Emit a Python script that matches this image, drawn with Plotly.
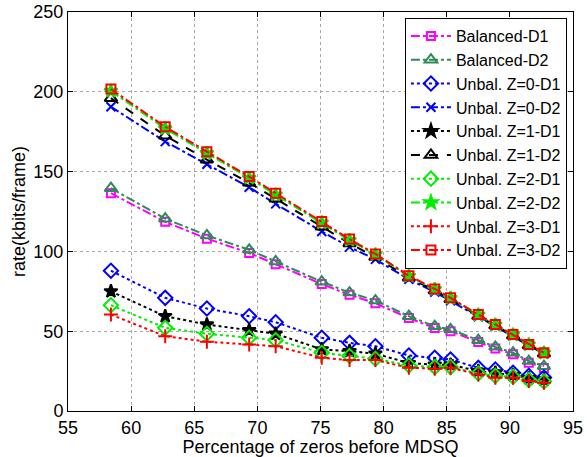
import plotly.graph_objects as go

# Percentage of zeros before MDSQ (x positions shared by all curves)
zeros_pct = [58.4, 62.7, 66.0, 69.35, 71.45, 75.1, 77.3, 79.35, 82.0, 84.05, 85.3, 87.5, 88.85, 90.25, 91.5, 92.7]

# Rate in kbits/frame for each scheme / description
balanced_d1 = [136.5, 118.5, 108.0, 99.0, 92.0, 79.5, 72.8, 67.5, 58.2, 52.0, 50.0, 43.3, 39.2, 35.5, 30.3, 27.0]
balanced_d2 = [139.6, 120.5, 110.0, 101.0, 93.7, 81.0, 74.2, 69.2, 59.4, 53.1, 51.1, 44.4, 40.2, 36.5, 31.3, 28.1]
z0_d1 = [87.9, 70.9, 64.2, 59.4, 55.6, 45.9, 42.7, 40.6, 34.8, 33.4, 32.3, 27.0, 26.0, 24.0, 22.0, 21.0]
z0_d2 = [190.6, 168.8, 154.6, 140.2, 129.8, 112.5, 102.7, 95.0, 82.5, 74.5, 69.0, 59.0, 53.0, 47.0, 41.0, 36.0]
z1_d1 = [75.0, 59.4, 54.2, 50.6, 48.4, 38.6, 37.5, 35.9, 30.0, 29.0, 29.0, 25.0, 24.0, 22.5, 20.5, 19.5]
z1_d2 = [196.0, 172.5, 157.5, 143.0, 133.0, 115.5, 105.0, 96.5, 83.5, 75.5, 70.0, 59.5, 53.5, 47.3, 41.2, 36.0]
z2_d1 = [66.3, 52.1, 48.4, 45.9, 44.4, 36.5, 34.4, 32.7, 28.5, 27.5, 27.5, 23.5, 22.0, 21.5, 19.5, 18.5]
z2_d2 = [200.5, 177.0, 161.5, 146.0, 135.5, 118.0, 107.0, 98.0, 84.5, 76.3, 70.7, 60.2, 54.0, 47.8, 41.6, 36.4]
z3_d1 = [60.4, 46.9, 43.4, 41.7, 40.6, 33.4, 31.9, 31.9, 27.1, 26.5, 27.1, 22.9, 20.9, 20.9, 18.75, 17.7]
z3_d2 = [201.7, 178.1, 162.5, 146.9, 136.5, 118.8, 107.7, 98.4, 84.8, 76.5, 70.9, 60.4, 54.2, 47.9, 41.7, 36.5]

x_ticks = [55, 60, 65, 70, 75, 80, 85, 90, 95]
y_ticks = [0, 50, 100, 150, 200, 250]

# name, values, colour, dash, marker symbol, marker size
series = [
    ("Balanced-D1", balanced_d1, "#ff00ff", "dashdot", "square-open", 8),
    ("Balanced-D2", balanced_d2, "#2e8b57", "dashdot", "triangle-up-open", 11),
    ("Unbal. Z=0-D1", z0_d1, "#0000ff", "dot", "diamond-open", 11),
    ("Unbal. Z=0-D2", z0_d2, "#0000ff", "dashdot", "x-thin-open", 9),
    ("Unbal. Z=1-D1", z1_d1, "#000000", "dot", "star", 10),
    ("Unbal. Z=1-D2", z1_d2, "#000000", "dash", "triangle-up-open", 11),
    ("Unbal. Z=2-D1", z2_d1, "#00ee00", "dot", "diamond-open", 11),
    ("Unbal. Z=2-D2", z2_d2, "#00ee00", "dashdot", "star", 10),
    ("Unbal. Z=3-D1", z3_d1, "#ff0000", "dot", "cross-thin-open", 10),
    ("Unbal. Z=3-D2", z3_d2, "#ff0000", "dashdot", "square-open", 9),
]

fig = go.Figure()
for name, vals, color, dash, symbol, size in series:
    fig.add_trace(go.Scatter(
        x=zeros_pct, y=vals, name=name, mode="lines+markers",
        line=dict(color=color, width=2, dash=dash),
        marker=dict(symbol=symbol, size=size, color=color,
                    line=dict(color=color, width=2)),
    ))

axis_common = dict(
    showline=True, linecolor="black", linewidth=1, mirror="ticks",
    ticks="inside", ticklen=5, tickcolor="black",
    showgrid=True, gridcolor="#a8a8a8", griddash="dot", gridwidth=1,
    zeroline=False, tickfont=dict(size=18, color="black"), automargin=False,
)

fig.update_layout(
    width=587, height=457,
    margin=dict(l=68, r=14, t=12, b=46),
    paper_bgcolor="white", plot_bgcolor="white",
    font=dict(family="Liberation Sans, Arial, sans-serif", size=18, color="black"),
    xaxis=dict(range=[55, 95], tickvals=x_ticks,
               title=dict(text="Percentage of zeros before MDSQ", standoff=0,
                          font=dict(size=18)), **axis_common),
    yaxis=dict(range=[0, 250], tickvals=y_ticks,
               title=dict(text="rate(kbits/frame)", standoff=3,
                          font=dict(size=18)), **axis_common),
    legend=dict(x=0.988, y=0.985, xanchor="right", yanchor="top",
                bgcolor="white", bordercolor="black", borderwidth=1,
                font=dict(size=16), tracegroupgap=0, itemwidth=40),
    showlegend=True,
)

fig.write_html("out.html")
